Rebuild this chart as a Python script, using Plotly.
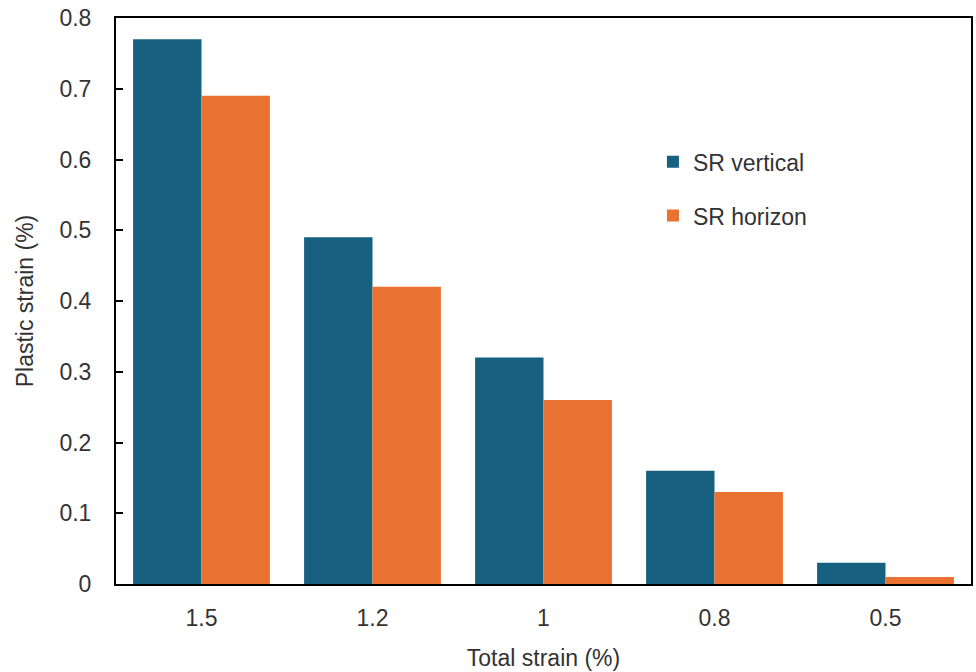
import plotly.graph_objects as go

categories = ["1.5", "1.2", "1", "0.8", "0.5"]
sr_vertical = [0.77, 0.49, 0.32, 0.16, 0.03]
sr_horizon = [0.69, 0.42, 0.26, 0.13, 0.01]
y_ticks = [0, 0.1, 0.2, 0.3, 0.4, 0.5, 0.6, 0.7, 0.8]
y_tick_text = ["0", "0.1", "0.2", "0.3", "0.4", "0.5", "0.6", "0.7", "0.8"]

fig = go.Figure()
fig.add_trace(go.Bar(x=categories, y=sr_vertical, name="SR vertical",
                     marker=dict(color="#17607F", line=dict(width=0)), legendgroup="a"))
fig.add_trace(go.Bar(x=categories, y=sr_horizon, name="SR horizon",
                     marker=dict(color="#E97132", line=dict(width=0)), legendgroup="b"))

font_family = "Liberation Sans, Arial, sans-serif"
fig.update_layout(
    width=976, height=672,
    margin=dict(l=116, r=3, t=18, b=88),
    paper_bgcolor="white", plot_bgcolor="white",
    barmode="group", bargap=0.2, bargroupgap=0,
    font=dict(family=font_family, color="#333333", size=23),
    legend=dict(x=0.628, y=0.784, xanchor="left", yanchor="top",
                font=dict(size=23, color="#333333"), tracegroupgap=21,
                bgcolor="rgba(0,0,0,0)", itemwidth=30),
    showlegend=True,
)
fig.update_xaxes(
    showline=True, linecolor="black", linewidth=2, mirror=True,
    ticks="", tickfont=dict(size=23, color="#333333"), ticklabelstandoff=12,
    title=dict(text="Total strain (%)", font=dict(size=23, color="#333333"), standoff=20),
)
fig.update_yaxes(
    range=[0, 0.8], tickvals=y_ticks, ticktext=y_tick_text,
    showline=True, linecolor="black", linewidth=2, mirror=True,
    ticks="inside", ticklen=7, tickwidth=2, tickcolor="black",
    showgrid=False, zeroline=False,
    tickfont=dict(size=23, color="#333333"), ticklabelstandoff=18,
    title=dict(text="Plastic strain (%)", font=dict(size=23, color="#333333"), standoff=19),
)

fig.write_html("out.html")
